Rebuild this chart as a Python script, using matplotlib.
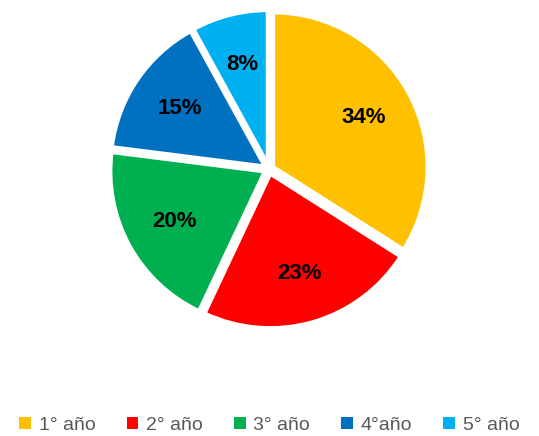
import matplotlib
matplotlib.use("Agg")
import matplotlib.pyplot as plt
from matplotlib.patches import Patch

# data
labels = ['1° año', '2° año', '3° año', '4°año', '5° año']
values = [34, 23, 20, 15, 8]
colors = ['#FFC000', '#FF0000', '#00B050', '#0070C0', '#00B0F0']

plt.rcParams['font.family'] = ['Liberation Sans', 'DejaVu Sans']

fig = plt.figure(figsize=(5.39, 4.36), dpi=100)
ax = fig.add_axes([0.183, 0.222, 0.632, 0.78])

wedges, texts, autotexts = ax.pie(
    values, colors=colors, startangle=90, counterclock=False,
    explode=[0.03] * len(values), autopct='%d%%', pctdistance=0.67,
    wedgeprops=dict(edgecolor='white', linewidth=3),
    textprops=dict(fontsize=16, fontweight='bold', color='black'))
ax.set_xlim(-1.1, 1.1)
ax.set_ylim(-1.1, 1.1)
ax.set_aspect('equal')

handles = [Patch(facecolor=c, edgecolor='none') for c in colors]
fig.legend(handles, labels, loc='lower center', bbox_to_anchor=(0.5, -0.035),
           ncol=5, frameon=False, fontsize=14, labelcolor='#595959',
           handlelength=0.6, handleheight=0.6, handletextpad=0.4,
           columnspacing=1.6)

fig.savefig('out.png', dpi=100)
